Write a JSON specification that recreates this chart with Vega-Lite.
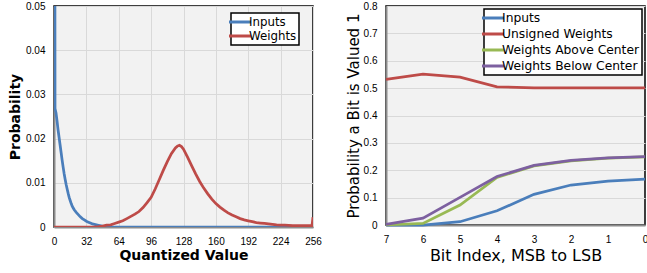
{
  "$schema": "https://vega.github.io/schema/vega-lite/v6.json",
  "background": "white",
  "padding": {"left": 7, "top": 0, "right": 0, "bottom": 0},
  "spacing": 73,
  "bounds": "flush",
  "config": {
    "view": {"fill": "#f2f2f2", "stroke": "#000000", "strokeWidth": 1.5},
    "axis": {
      "domainColor": "#8c8c8c",
      "domainWidth": 2,
      "ticks": false,
      "gridColor": "#d9d9d9",
      "gridWidth": 1,
      "labelFont": "Liberation Sans",
      "labelFontSize": 10,
      "labelColor": "#000000",
      "labelPadding": 9,
      "labelOverlap": false,
      "labelFlush": false,
      "labelBound": false,
      "titleFont": "DejaVu Sans",
      "titleColor": "#000000"
    },
    "legend": {
      "strokeWidth": 1.5
    }
  },
  "datasets": {
    "dist": [
      {"series": "Inputs", "q": 0, "p": 0.3},
      {"series": "Inputs", "q": 1, "p": 0.0268},
      {"series": "Inputs", "q": 2, "p": 0.0258},
      {"series": "Inputs", "q": 3, "p": 0.024},
      {"series": "Inputs", "q": 4, "p": 0.022},
      {"series": "Inputs", "q": 5, "p": 0.0203},
      {"series": "Inputs", "q": 6, "p": 0.0186},
      {"series": "Inputs", "q": 7, "p": 0.0169},
      {"series": "Inputs", "q": 8, "p": 0.0152},
      {"series": "Inputs", "q": 9, "p": 0.0136},
      {"series": "Inputs", "q": 10, "p": 0.0121},
      {"series": "Inputs", "q": 11, "p": 0.0108},
      {"series": "Inputs", "q": 12, "p": 0.0096},
      {"series": "Inputs", "q": 13, "p": 0.0086},
      {"series": "Inputs", "q": 14, "p": 0.0076},
      {"series": "Inputs", "q": 15, "p": 0.0067},
      {"series": "Inputs", "q": 16, "p": 0.006},
      {"series": "Inputs", "q": 17, "p": 0.0053},
      {"series": "Inputs", "q": 18, "p": 0.0047},
      {"series": "Inputs", "q": 19, "p": 0.0043},
      {"series": "Inputs", "q": 20, "p": 0.0039},
      {"series": "Inputs", "q": 22, "p": 0.0033},
      {"series": "Inputs", "q": 24, "p": 0.0028},
      {"series": "Inputs", "q": 26, "p": 0.0023},
      {"series": "Inputs", "q": 28, "p": 0.0019},
      {"series": "Inputs", "q": 30, "p": 0.0016},
      {"series": "Inputs", "q": 32, "p": 0.0013},
      {"series": "Inputs", "q": 34, "p": 0.0011},
      {"series": "Inputs", "q": 36, "p": 0.0009},
      {"series": "Inputs", "q": 38, "p": 0.0007},
      {"series": "Inputs", "q": 40, "p": 0.0006},
      {"series": "Inputs", "q": 44, "p": 0.0004},
      {"series": "Inputs", "q": 48, "p": 0.0002},
      {"series": "Inputs", "q": 52, "p": 0.0001},
      {"series": "Inputs", "q": 56, "p": 0.00005},
      {"series": "Inputs", "q": 64, "p": 0},
      {"series": "Inputs", "q": 96, "p": 0},
      {"series": "Inputs", "q": 128, "p": 0},
      {"series": "Inputs", "q": 160, "p": 0},
      {"series": "Inputs", "q": 192, "p": 0},
      {"series": "Inputs", "q": 224, "p": 0},
      {"series": "Inputs", "q": 256, "p": 0},
      {"series": "Weights", "q": 0, "p": 0},
      {"series": "Weights", "q": 16, "p": 0},
      {"series": "Weights", "q": 32, "p": 0},
      {"series": "Weights", "q": 40, "p": 0.00005},
      {"series": "Weights", "q": 44, "p": 0.0001},
      {"series": "Weights", "q": 48, "p": 0.0002},
      {"series": "Weights", "q": 52, "p": 0.0004},
      {"series": "Weights", "q": 56, "p": 0.0005},
      {"series": "Weights", "q": 60, "p": 0.0008},
      {"series": "Weights", "q": 64, "p": 0.0011},
      {"series": "Weights", "q": 68, "p": 0.0014},
      {"series": "Weights", "q": 72, "p": 0.0019},
      {"series": "Weights", "q": 76, "p": 0.0024},
      {"series": "Weights", "q": 80, "p": 0.0029},
      {"series": "Weights", "q": 84, "p": 0.0035},
      {"series": "Weights", "q": 88, "p": 0.0044},
      {"series": "Weights", "q": 92, "p": 0.0055},
      {"series": "Weights", "q": 96, "p": 0.0067},
      {"series": "Weights", "q": 100, "p": 0.0086},
      {"series": "Weights", "q": 104, "p": 0.0107},
      {"series": "Weights", "q": 108, "p": 0.0128},
      {"series": "Weights", "q": 112, "p": 0.0148},
      {"series": "Weights", "q": 116, "p": 0.0166},
      {"series": "Weights", "q": 120, "p": 0.0179},
      {"series": "Weights", "q": 122, "p": 0.0183},
      {"series": "Weights", "q": 124, "p": 0.0185},
      {"series": "Weights", "q": 126, "p": 0.0182},
      {"series": "Weights", "q": 128, "p": 0.0176},
      {"series": "Weights", "q": 132, "p": 0.0158},
      {"series": "Weights", "q": 136, "p": 0.0139},
      {"series": "Weights", "q": 140, "p": 0.012},
      {"series": "Weights", "q": 144, "p": 0.0103},
      {"series": "Weights", "q": 148, "p": 0.0088},
      {"series": "Weights", "q": 152, "p": 0.0075},
      {"series": "Weights", "q": 156, "p": 0.0063},
      {"series": "Weights", "q": 160, "p": 0.0053},
      {"series": "Weights", "q": 164, "p": 0.0045},
      {"series": "Weights", "q": 168, "p": 0.0038},
      {"series": "Weights", "q": 172, "p": 0.0032},
      {"series": "Weights", "q": 176, "p": 0.0027},
      {"series": "Weights", "q": 180, "p": 0.0023},
      {"series": "Weights", "q": 184, "p": 0.0019},
      {"series": "Weights", "q": 188, "p": 0.0016},
      {"series": "Weights", "q": 192, "p": 0.0014},
      {"series": "Weights", "q": 196, "p": 0.0012},
      {"series": "Weights", "q": 200, "p": 0.001},
      {"series": "Weights", "q": 204, "p": 0.0009},
      {"series": "Weights", "q": 208, "p": 0.0008},
      {"series": "Weights", "q": 212, "p": 0.0007},
      {"series": "Weights", "q": 216, "p": 0.0006},
      {"series": "Weights", "q": 220, "p": 0.0005},
      {"series": "Weights", "q": 224, "p": 0.00045},
      {"series": "Weights", "q": 228, "p": 0.0004},
      {"series": "Weights", "q": 232, "p": 0.00035},
      {"series": "Weights", "q": 236, "p": 0.0003},
      {"series": "Weights", "q": 240, "p": 0.0003},
      {"series": "Weights", "q": 244, "p": 0.0003},
      {"series": "Weights", "q": 248, "p": 0.0003},
      {"series": "Weights", "q": 252, "p": 0.0003},
      {"series": "Weights", "q": 255, "p": 0.0003},
      {"series": "Weights", "q": 256, "p": 0.0022}
    ],
    "bits": [
      {"series": "Inputs", "bit": 7, "p": 0},
      {"series": "Inputs", "bit": 6, "p": 0},
      {"series": "Inputs", "bit": 5, "p": 0.012},
      {"series": "Inputs", "bit": 4, "p": 0.052},
      {"series": "Inputs", "bit": 3, "p": 0.112},
      {"series": "Inputs", "bit": 2, "p": 0.146},
      {"series": "Inputs", "bit": 1, "p": 0.16},
      {"series": "Inputs", "bit": 0, "p": 0.168},
      {"series": "Unsigned Weights", "bit": 7, "p": 0.532},
      {"series": "Unsigned Weights", "bit": 6, "p": 0.551},
      {"series": "Unsigned Weights", "bit": 5, "p": 0.54},
      {"series": "Unsigned Weights", "bit": 4, "p": 0.505},
      {"series": "Unsigned Weights", "bit": 3, "p": 0.501},
      {"series": "Unsigned Weights", "bit": 2, "p": 0.501},
      {"series": "Unsigned Weights", "bit": 1, "p": 0.501},
      {"series": "Unsigned Weights", "bit": 0, "p": 0.501},
      {"series": "Weights Above Center", "bit": 7, "p": 0},
      {"series": "Weights Above Center", "bit": 6, "p": 0.006},
      {"series": "Weights Above Center", "bit": 5, "p": 0.073},
      {"series": "Weights Above Center", "bit": 4, "p": 0.174},
      {"series": "Weights Above Center", "bit": 3, "p": 0.216},
      {"series": "Weights Above Center", "bit": 2, "p": 0.234},
      {"series": "Weights Above Center", "bit": 1, "p": 0.244},
      {"series": "Weights Above Center", "bit": 0, "p": 0.249},
      {"series": "Weights Below Center", "bit": 7, "p": 0.002},
      {"series": "Weights Below Center", "bit": 6, "p": 0.025},
      {"series": "Weights Below Center", "bit": 5, "p": 0.101},
      {"series": "Weights Below Center", "bit": 4, "p": 0.177},
      {"series": "Weights Below Center", "bit": 3, "p": 0.218},
      {"series": "Weights Below Center", "bit": 2, "p": 0.236},
      {"series": "Weights Below Center", "bit": 1, "p": 0.245},
      {"series": "Weights Below Center", "bit": 0, "p": 0.25}
    ]
  },
  "hconcat": [
    {
      "width": 259,
      "height": 221,
      "data": {"name": "dist"},
      "mark": {"type": "line", "clip": true, "strokeWidth": 2.75},
      "encoding": {
        "x": {
          "field": "q", "type": "quantitative",
          "scale": {"domain": [0, 256], "nice": false, "zero": false},
          "axis": {"values": [0, 32, 64, 96, 128, 160, 192, 224, 256], "title": "Quantized Value", "titleFontSize": 14, "titleFontWeight": "bold", "titlePadding": 2, "grid": true}
        },
        "y": {
          "field": "p", "type": "quantitative",
          "scale": {"domain": [0, 0.05], "nice": false},
          "axis": {"values": [0, 0.01, 0.02, 0.03, 0.04, 0.05], "format": ".2~f", "title": "Probability", "titleFontSize": 14, "titleFontWeight": "bold", "titlePadding": 3, "grid": true}
        },
        "color": {
          "field": "series", "type": "nominal",
          "scale": {"domain": ["Inputs", "Weights"], "range": ["#4a7ebb", "#be4b48"]},
          "legend": {"title": null, "orient": "none", "legendX": 177, "legendY": 7, "fillColor": "white", "strokeColor": "black", "padding": 2, "symbolType": "M-2,0H2", "symbolSize": 121, "symbolStrokeWidth": 3, "labelFont": "DejaVu Sans", "labelFontSize": 11.8, "labelColor": "black", "labelOffset": 2, "rowPadding": 0}
        }
      }
    },
    {
      "width": 259,
      "height": 219,
      "data": {"name": "bits"},
      "mark": {"type": "line", "strokeWidth": 2.75},
      "encoding": {
        "x": {
          "field": "bit", "type": "quantitative",
          "scale": {"domain": [7, 0], "nice": false, "zero": false},
          "axis": {"values": [7, 6, 5, 4, 3, 2, 1, 0], "format": "d", "title": "Bit Index, MSB to LSB", "titleFontSize": 16, "titleFontWeight": "normal", "titlePadding": 3, "grid": false}
        },
        "y": {
          "field": "p", "type": "quantitative",
          "scale": {"domain": [0, 0.8], "nice": false},
          "axis": {"values": [0, 0.1, 0.2, 0.3, 0.4, 0.5, 0.6, 0.7, 0.8], "format": ".1~f", "title": "Probability a Bit is Valued 1", "titleFontSize": 15, "titleFontWeight": "normal", "titlePadding": 2, "grid": true}
        },
        "color": {
          "field": "series", "type": "nominal",
          "scale": {"domain": ["Inputs", "Unsigned Weights", "Weights Above Center", "Weights Below Center"], "range": ["#4a7ebb", "#be4b48", "#98b954", "#7d60a0"]},
          "legend": {"title": null, "orient": "none", "legendX": 98, "legendY": 3, "fillColor": "white", "strokeColor": "black", "padding": 2, "symbolType": "M-2,0H2", "symbolSize": 121, "symbolStrokeWidth": 3, "labelFont": "DejaVu Sans", "labelFontSize": 12.3, "labelColor": "black", "labelOffset": 2, "rowPadding": 2}
        }
      }
    }
  ],
  "resolve": {"scale": {"color": "independent"}, "legend": {"color": "independent"}}
}
